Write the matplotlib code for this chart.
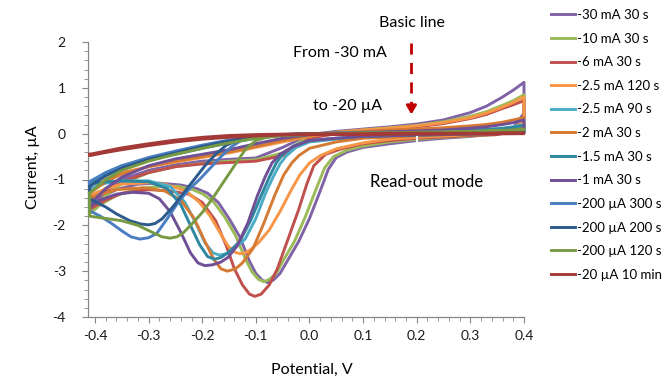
import numpy as np
import matplotlib
matplotlib.use("Agg")
import matplotlib.pyplot as plt
from matplotlib.ticker import MultipleLocator, FormatStrFormatter

labels = ["-30 mA 30 s", "-10 mA 30 s", "-6 mA 30 s", "-2.5 mA 120 s",
          "-2.5 mA 90 s", "-2 mA 30 s", "-1.5 mA 30 s", "-1 mA 30 s",
          "-200 µA 300 s", "-200 µA 200 s", "-200 µA 120 s", "-20 µA 10 min"]
colors = ["#8062A6", "#9BBB59", "#C0504D", "#F79646", "#4BACC6", "#D57A33",
          "#2E87A0", "#6F4F96", "#4A7EC0", "#2C5A8C", "#789A43", "#A33A37"]

# forward sweep (-0.41 -> 0.4), same potentials for all runs
e_up = [-0.41, -0.38, -0.35, -0.3, -0.25, -0.2, -0.15, -0.1, -0.05, 0.0,
        0.05, 0.1, 0.15, 0.2, 0.25, 0.3, 0.33, 0.36, 0.38, 0.4]
i_up = [
    [-1.45, -1.2, -1.0, -0.8, -0.68, -0.6, -0.56, -0.53, -0.3, -0.02, 0.05, 0.1, 0.15, 0.21, 0.3, 0.46, 0.6, 0.8, 0.95, 1.12],
    [-1.75, -1.35, -1.1, -0.85, -0.72, -0.65, -0.6, -0.57, -0.42, -0.06, 0.03, 0.08, 0.13, 0.18, 0.26, 0.38, 0.48, 0.62, 0.72, 0.85],
    [-1.5, -1.25, -1.05, -0.85, -0.72, -0.66, -0.63, -0.6, -0.48, -0.1, 0.0, 0.06, 0.1, 0.15, 0.22, 0.33, 0.42, 0.55, 0.63, 0.72],
    [-1.25, -1.0, -0.85, -0.72, -0.62, -0.52, -0.42, -0.3, -0.18, -0.06, 0.03, 0.08, 0.12, 0.17, 0.24, 0.35, 0.45, 0.58, 0.68, 0.8],
    [-1.05, -0.85, -0.7, -0.55, -0.4, -0.27, -0.15, -0.07, -0.02, 0.0, 0.01, 0.02, 0.03, 0.04, 0.05, 0.07, 0.09, 0.12, 0.15, 0.2],
    [-1.3, -1.05, -0.88, -0.72, -0.6, -0.5, -0.4, -0.28, -0.15, -0.04, 0.02, 0.05, 0.08, 0.1, 0.13, 0.17, 0.2, 0.25, 0.3, 0.35],
    [-1.1, -0.88, -0.72, -0.57, -0.45, -0.32, -0.2, -0.1, -0.03, 0.0, 0.01, 0.02, 0.03, 0.04, 0.05, 0.07, 0.09, 0.11, 0.14, 0.18],
    [-1.55, -1.2, -0.95, -0.7, -0.55, -0.45, -0.35, -0.22, -0.1, -0.02, 0.01, 0.03, 0.04, 0.06, 0.08, 0.12, 0.15, 0.2, 0.24, 0.3],
    [-1.05, -0.85, -0.7, -0.52, -0.38, -0.25, -0.14, -0.06, -0.02, 0.0, 0.01, 0.02, 0.02, 0.03, 0.03, 0.04, 0.04, 0.05, 0.05, 0.06],
    [-1.15, -0.92, -0.75, -0.56, -0.42, -0.28, -0.16, -0.07, -0.02, 0.0, 0.0, 0.01, 0.01, 0.02, 0.02, 0.03, 0.03, 0.04, 0.04, 0.05],
    [-1.3, -1.0, -0.8, -0.6, -0.45, -0.32, -0.2, -0.1, -0.03, 0.0, 0.01, 0.02, 0.02, 0.03, 0.04, 0.05, 0.06, 0.07, 0.08, 0.1],
    [-0.45, -0.38, -0.31, -0.22, -0.14, -0.08, -0.04, -0.02, -0.01, 0.0, 0.0, 0.0, 0.01, 0.01, 0.01, 0.01, 0.01, 0.02, 0.02, 0.02],
]

# reverse sweep (0.4 -> -0.41), read per run
e_down = [
    [0.4, 0.38, 0.35, 0.3, 0.25, 0.2, 0.15, 0.1, 0.07, 0.05, 0.035, 0.02, 0.0, -0.02, -0.04, -0.055, -0.068, -0.078, -0.088, -0.1, -0.112, -0.13, -0.15, -0.17, -0.19, -0.21, -0.24, -0.28, -0.32, -0.36, -0.39, -0.41],
    [0.4, 0.38, 0.35, 0.3, 0.25, 0.2, 0.15, 0.1, 0.07, 0.045, 0.028, 0.012, -0.008, -0.028, -0.048, -0.062, -0.075, -0.085, -0.095, -0.107, -0.12, -0.138, -0.158, -0.178, -0.198, -0.218, -0.245, -0.28, -0.32, -0.36, -0.39, -0.41],
    [0.4, 0.38, 0.35, 0.3, 0.25, 0.2, 0.15, 0.1, 0.06, 0.03, 0.015, 0.008, -0.005, -0.02, -0.04, -0.06, -0.075, -0.09, -0.102, -0.112, -0.125, -0.14, -0.155, -0.175, -0.2, -0.225, -0.26, -0.3, -0.35, -0.38, -0.41],
    [0.4, 0.38, 0.35, 0.3, 0.25, 0.2, 0.15, 0.1, 0.05, 0.02, 0.0, -0.018, -0.035, -0.055, -0.075, -0.095, -0.11, -0.12, -0.13, -0.14, -0.152, -0.165, -0.185, -0.205, -0.23, -0.27, -0.3, -0.35, -0.38, -0.41],
    [0.4, 0.3, 0.2, 0.1, 0.05, 0.0, -0.025, -0.043, -0.055, -0.068, -0.082, -0.1, -0.12, -0.14, -0.155, -0.168, -0.18, -0.195, -0.21, -0.232, -0.26, -0.3, -0.35, -0.38, -0.41],
    [0.4, 0.38, 0.35, 0.3, 0.2, 0.1, 0.05, 0.0, -0.02, -0.033, -0.048, -0.065, -0.085, -0.105, -0.125, -0.138, -0.153, -0.165, -0.178, -0.195, -0.215, -0.24, -0.27, -0.31, -0.36, -0.41],
    [0.4, 0.3, 0.2, 0.1, 0.05, 0.0, -0.03, -0.05, -0.062, -0.075, -0.09, -0.11, -0.13, -0.15, -0.165, -0.177, -0.19, -0.205, -0.22, -0.24, -0.265, -0.3, -0.35, -0.38, -0.41],
    [0.4, 0.3, 0.2, 0.1, 0.05, 0.0, -0.03, -0.055, -0.07, -0.083, -0.097, -0.115, -0.135, -0.152, -0.165, -0.18, -0.195, -0.208, -0.222, -0.24, -0.26, -0.28, -0.3, -0.33, -0.36, -0.39, -0.41],
    [0.4, 0.3, 0.2, 0.1, 0.0, -0.05, -0.1, -0.125, -0.145, -0.165, -0.185, -0.205, -0.225, -0.245, -0.265, -0.285, -0.3, -0.316, -0.333, -0.35, -0.37, -0.39, -0.41],
    [0.4, 0.3, 0.2, 0.1, 0.0, -0.05, -0.1, -0.13, -0.155, -0.175, -0.195, -0.215, -0.235, -0.255, -0.275, -0.288, -0.3, -0.315, -0.335, -0.36, -0.38, -0.41],
    [0.4, 0.3, 0.2, 0.1, 0.0, -0.05, -0.08, -0.1, -0.12, -0.14, -0.16, -0.18, -0.2, -0.22, -0.235, -0.247, -0.26, -0.275, -0.29, -0.32, -0.35, -0.38, -0.41],
    [0.4, 0.3, 0.2, 0.1, 0.0, -0.05, -0.1, -0.15, -0.2, -0.25, -0.3, -0.35, -0.38, -0.41],
]
i_down = [
    [0.45, 0.12, 0.0, -0.06, -0.1, -0.15, -0.22, -0.3, -0.4, -0.52, -0.78, -1.25, -1.85, -2.35, -2.75, -3.05, -3.2, -3.25, -3.2, -3.05, -2.78, -2.25, -1.85, -1.5, -1.3, -1.2, -1.12, -1.08, -1.1, -1.22, -1.4, -1.6],
    [0.35, 0.08, -0.02, -0.05, -0.08, -0.12, -0.18, -0.27, -0.36, -0.5, -0.75, -1.22, -1.82, -2.35, -2.75, -3.05, -3.18, -3.23, -3.18, -3.02, -2.72, -2.22, -1.82, -1.5, -1.32, -1.22, -1.15, -1.15, -1.2, -1.35, -1.55, -1.75],
    [0.35, 0.06, -0.02, -0.04, -0.07, -0.1, -0.15, -0.22, -0.33, -0.45, -0.62, -0.7, -1.1, -1.65, -2.3, -2.95, -3.3, -3.5, -3.55, -3.5, -3.3, -2.95, -2.45, -1.9, -1.5, -1.32, -1.25, -1.22, -1.3, -1.45, -1.65],
    [0.3, 0.08, 0.02, -0.02, -0.05, -0.08, -0.12, -0.2, -0.33, -0.48, -0.64, -0.9, -1.25, -1.7, -2.1, -2.38, -2.53, -2.6, -2.62, -2.58, -2.45, -2.2, -1.8, -1.5, -1.25, -1.1, -1.07, -1.1, -1.2, -1.35],
    [0.06, 0.0, -0.04, -0.08, -0.12, -0.18, -0.3, -0.48, -0.66, -0.95, -1.3, -1.85, -2.3, -2.5, -2.62, -2.65, -2.6, -2.38, -2.0, -1.5, -1.15, -1.03, -1.03, -1.08, -1.2],
    [0.15, 0.05, 0.02, 0.0, -0.05, -0.1, -0.18, -0.32, -0.48, -0.64, -0.9, -1.35, -1.95, -2.5, -2.82, -2.95, -3.0, -2.95, -2.75, -2.35, -1.85, -1.45, -1.25, -1.18, -1.22, -1.4],
    [0.03, -0.01, -0.03, -0.06, -0.1, -0.15, -0.27, -0.45, -0.64, -0.95, -1.35, -1.9, -2.35, -2.58, -2.7, -2.74, -2.68, -2.42, -2.05, -1.55, -1.2, -1.05, -1.03, -1.05, -1.1],
    [0.1, 0.0, -0.03, -0.06, -0.1, -0.15, -0.28, -0.45, -0.64, -0.95, -1.35, -1.95, -2.45, -2.7, -2.8, -2.86, -2.88, -2.82, -2.6, -2.15, -1.7, -1.42, -1.3, -1.28, -1.32, -1.45, -1.6],
    [0.04, 0.02, 0.0, -0.01, -0.02, -0.04, -0.07, -0.13, -0.28, -0.5, -0.75, -1.0, -1.22, -1.5, -1.85, -2.18, -2.27, -2.3, -2.25, -2.12, -1.95, -1.8, -1.68],
    [0.04, 0.02, 0.0, -0.01, -0.02, -0.03, -0.06, -0.12, -0.25, -0.45, -0.7, -1.0, -1.3, -1.6, -1.86, -1.96, -1.99, -1.97, -1.9, -1.75, -1.6, -1.42],
    [0.08, 0.04, 0.01, -0.01, -0.02, -0.04, -0.08, -0.15, -0.35, -0.7, -1.05, -1.4, -1.72, -1.98, -2.16, -2.25, -2.28, -2.25, -2.17, -2.0, -1.9, -1.85, -1.8],
    [0.0, -0.01, -0.01, -0.02, -0.02, -0.03, -0.05, -0.08, -0.12, -0.18, -0.26, -0.35, -0.41, -0.48],
]

plt.rcParams["font.family"] = ["Lato", "DejaVu Sans"]
plt.rcParams["axes.unicode_minus"] = False

W, H = 665, 377
fig = plt.figure(figsize=(W / 100, H / 100), dpi=100)
ax = fig.add_axes([88 / W, 1 - 317 / H, 436 / W, 275 / H])

for k in range(len(labels)):
    # one closed loop: forward sweep, then back, then the step at -0.41
    e = np.concatenate([e_up, e_down[k], e_up[:1]])
    i = np.concatenate([i_up[k], i_down[k], i_up[k][:1]])
    ax.plot(e, i, color=colors[k], lw=2.1, label=labels[k],
            solid_joinstyle="round", clip_on=False, zorder=2 + k)

ax.set_xlim(-0.413, 0.4)
ax.set_ylim(-4, 2)
ax.xaxis.set_major_locator(MultipleLocator(0.1))
ax.xaxis.set_minor_locator(MultipleLocator(0.02))
ax.xaxis.set_major_formatter(FormatStrFormatter("%.1f"))
ax.yaxis.set_major_locator(MultipleLocator(1))
ax.yaxis.set_minor_locator(MultipleLocator(0.2))
ax.yaxis.set_major_formatter(FormatStrFormatter("%d"))

for s in ["top", "right"]:
    ax.spines[s].set_visible(False)
for s in ["left", "bottom"]:
    ax.spines[s].set_color("#868686")
    ax.spines[s].set_linewidth(0.9)
ax.tick_params(which="both", direction="out", color="#868686", labelsize=10,
               labelcolor="#1a1a1a")
ax.tick_params(which="major", length=4)
ax.tick_params(which="minor", length=3)
ax.tick_params(axis="y", pad=12)
ax.tick_params(axis="x", pad=5)

fig.text(312 / W, 1 - 370 / H, "Potential, V", ha="center", va="center", fontsize=11.5)
fig.text(33 / W, 1 - 167 / H, "Current, µA", ha="center", va="center",
         rotation=90, fontsize=11.5)

# annotations
fig.text(412 / W, 1 - 23 / H, "Basic line", ha="center", va="center", fontsize=11.5)
fig.text(340 / W, 1 - 53 / H, "From -30 mA", ha="center", va="center", fontsize=11.5)
fig.text(348 / W, 1 - 106 / H, "to -20 µA", ha="center", va="center", fontsize=11.5)
fig.text(427 / W, 1 - 182 / H, "Read-out mode", ha="center", va="center", fontsize=12)
ax.plot([0.19, 0.19], [1.98, 0.6], color="#C00000", lw=2, dashes=(4, 3),
        clip_on=False, zorder=20)
ax.annotate("", xy=(0.19, 0.36), xytext=(0.19, 0.62),
            arrowprops=dict(arrowstyle="-|>,head_length=0.5,head_width=0.3",
                            color="#C00000", lw=2), zorder=20)
ax.plot([0.2, 0.2], [-0.07, -0.22], color="white", lw=1.5, zorder=30)

fig.legend(loc="upper left", bbox_to_anchor=(551 / W, 1 - 9 / H), frameon=False,
           fontsize=9.5, handlelength=1.8, handletextpad=0.2, labelspacing=0.88,
           borderpad=0, borderaxespad=0)

fig.savefig("out.png", dpi=100)
